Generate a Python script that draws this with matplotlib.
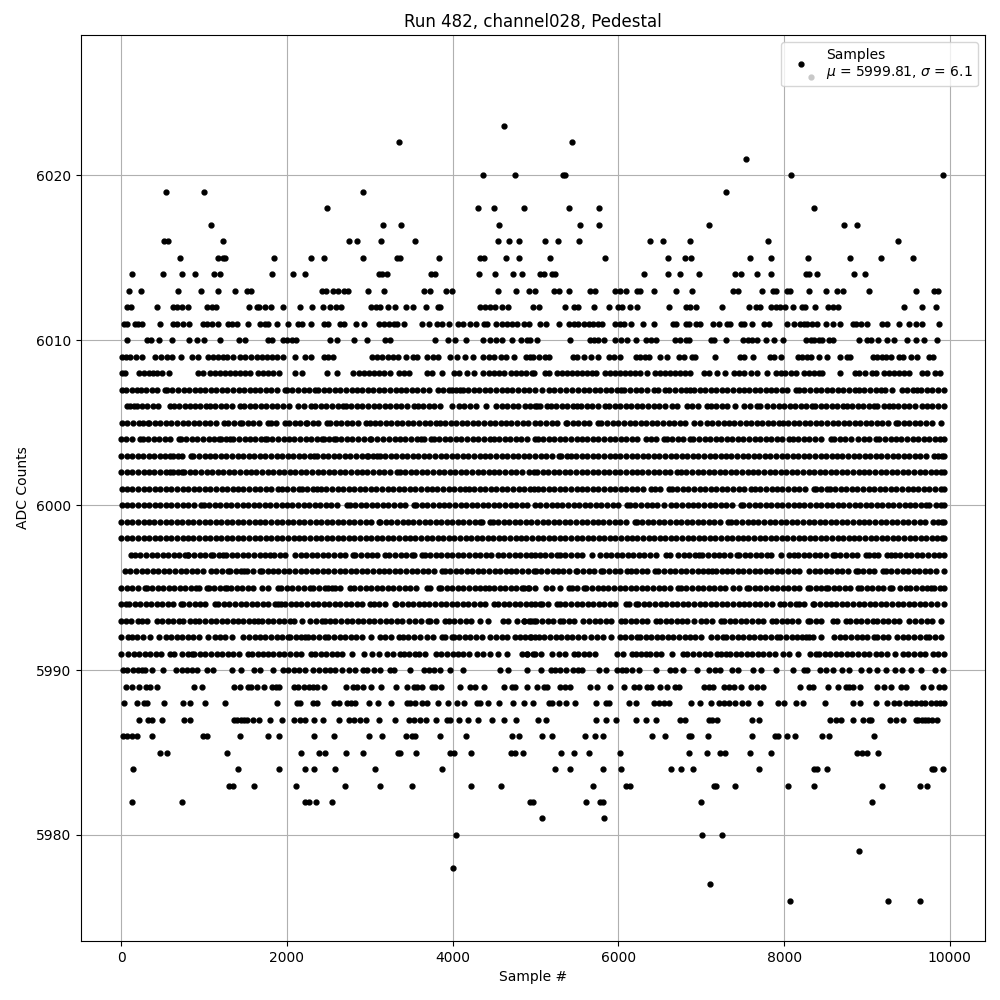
import matplotlib
matplotlib.use('Agg')
import matplotlib.pyplot as plt
from matplotlib.legend_handler import HandlerBase
from matplotlib.lines import Line2D

# Sample numbers, one list per ADC level
s6023 = [4625]
s6022 = [3347, 5436]
s6021 = [7545]
s6020 = [4362, 4749, 5335, 5350, 8082, 9918]
s6019 = [544, 1003, 2912, 7297]
s6018 = [2489, 4302, 4495, 4857, 5400, 5762, 8360]
s6017 = [1088, 3154, 3371, 4555, 5533, 5762, 7091, 8722, 8879]
s6016 = [520, 568, 1233, 2743, 2840, 3130, 3540, 4543, 4676, 4797, 5110, 5267, 5521, 6378, 6536, 6862, 7804, 9375]
s6015 = [713, 1173, 1233, 1250, 1849, 2284, 2441, 2912, 3327, 3367, 3830, 4334, 4374, 4640, 4797, 5170, 5835, 6596, 6801, 6874, 7587, 7840, 8287, 8795, 9169, 9556]
s6014 = [134, 508, 738, 895, 1124, 1197, 1825, 2067, 2212, 3105, 3146, 3206, 3742, 3790, 4314, 4507, 4724, 4833, 5058, 5098, 5199, 5239, 6306, 6596, 6741, 6970, 7405, 7474, 7671, 7840, 8259, 8300, 8396, 8843, 8976]
s6013 = [97, 242, 689, 967, 1173, 1378, 1515, 1563, 2421, 2469, 2550, 2610, 2683, 2735, 2973, 3166, 3649, 3722, 3915, 3988, 4543, 4761, 4918, 4989, 5219, 5279, 5400, 5654, 5722, 5960, 6024, 6097, 6225, 6266, 6427, 6693, 6886, 7381, 7442, 7731, 7864, 7905, 8038, 8070, 8299, 8505, 8638, 8710, 9024, 9592, 9809, 9862]
s6012 = [73, 113, 436, 629, 669, 738, 810, 1032, 1092, 1140, 1547, 1636, 1668, 1740, 1805, 1958, 2163, 2304, 2433, 2522, 2586, 2651, 3009, 3069, 3126, 3214, 3299, 3432, 3516, 3677, 3818, 3851, 4326, 4394, 4455, 4515, 4596, 4664, 4965, 5037, 5352, 5460, 5509, 5702, 5883, 5992, 6044, 6137, 6221, 6608, 6817, 6862, 6934, 7248, 7574, 7667, 7715, 7840, 7897, 7945, 8009, 8106, 8219, 8251, 8372, 8529, 8589, 8650, 9447, 9664, 9834]
s6011 = [33, 73, 166, 206, 254, 472, 621, 677, 750, 822, 991, 1032, 1092, 1165, 1293, 1334, 1402, 1535, 1676, 1736, 1777, 1885, 2018, 2139, 2183, 2296, 2441, 2493, 2642, 2683, 2828, 2932, 3106, 3166, 3226, 3287, 3327, 3407, 3629, 3710, 3810, 3871, 3951, 4060, 4124, 4213, 4282, 4374, 4414, 4523, 4596, 4656, 4716, 4777, 4857, 4917, 5058, 5126, 5287, 5400, 5460, 5509, 5581, 5642, 5694, 5750, 5803, 5964, 6024, 6072, 6153, 6302, 6427, 6660, 6701, 6817, 6858, 6942, 6991, 7140, 7212, 7305, 7353, 7474, 7514, 7615, 7756, 7816, 8034, 8118, 8191, 8239, 8279, 8340, 8400, 8505, 8589, 8674, 8827, 8867, 8931, 9004, 9185, 9246, 9387, 9507, 9588, 9669, 9874]
s6010 = [73, 307, 359, 460, 609, 822, 919, 1003, 1193, 1422, 1495, 1777, 1817, 1958, 1998, 2059, 2111, 2522, 2602, 2804, 2961, 3178, 3238, 3782, 3947, 4024, 4157, 4362, 4447, 4519, 4596, 4712, 4825, 4897, 4937, 5017, 5412, 5654, 5702, 5750, 5823, 5960, 6028, 6101, 6213, 6330, 6395, 6455, 6689, 6749, 6817, 6850, 7119, 7160, 7297, 7506, 7562, 7615, 7675, 7780, 7877, 7985, 8259, 8319, 8360, 8420, 8460, 8541, 8593, 8903, 9004, 9044, 9133, 9238, 9326, 9483, 9592, 9689, 9846]
s6009 = [9, 57, 105, 178, 246, 412, 476, 548, 609, 725, 858, 923, 1052, 1112, 1173, 1233, 1281, 1354, 1434, 1495, 1563, 1636, 1696, 1757, 1817, 1877, 1958, 2095, 2212, 2296, 2441, 2501, 2554, 3025, 3085, 3146, 3214, 3279, 3335, 3432, 3516, 3569, 3689, 3762, 3818, 3963, 4052, 4153, 4241, 4362, 4434, 4495, 4583, 4648, 4737, 4885, 4938, 4965, 5037, 5110, 5158, 5448, 5501, 5589, 5670, 5750, 5883, 5944, 6016, 6213, 6266, 6326, 6374, 6507, 6588, 6729, 6789, 6890, 6930, 7164, 7466, 7522, 7619, 7836, 7884, 7961, 8166, 8219, 8271, 8319, 8420, 8517, 8674, 8754, 8795, 9072, 9125, 9185, 9225, 9294, 9387, 9439, 9528, 9600, 9749, 9801]
s6008 = [5, 45, 218, 279, 335, 387, 428, 488, 581, 931, 991, 1072, 1132, 1193, 1253, 1313, 1374, 1434, 1495, 1555, 1656, 1716, 1777, 1837, 1906, 2099, 2179, 2481, 2602, 2791, 2864, 2924, 2985, 3045, 3106, 3166, 3246, 3347, 3407, 3468, 3689, 3750, 3871, 4020, 4072, 4173, 4253, 4366, 4434, 4495, 4555, 4616, 4704, 4769, 4825, 4889, 4957, 4985, 5118, 5158, 5259, 5319, 5380, 5440, 5501, 5561, 5621, 5682, 5734, 5843, 5903, 5964, 6024, 6084, 6145, 6205, 6266, 6346, 6447, 6507, 6568, 6628, 6689, 6749, 6809, 6870, 7031, 7091, 7188, 7285, 7393, 7454, 7522, 7595, 7675, 7796, 7897, 7957, 8017, 8078, 8138, 8239, 8299, 8360, 8420, 8460, 8674, 8855, 8903, 8976, 9064, 9105, 9205, 9266, 9326, 9387, 9447, 9507, 9661, 9721, 9822, 9882]
s6007 = [4, 62, 125, 185, 238, 300, 365, 428, 528, 552, 618, 690, 752, 820, 885, 950, 1012, 1080, 1145, 1210, 1280, 1345, 1415, 1480, 1548, 1610, 1680, 1745, 1810, 1880, 1977, 1998, 2066, 2135, 2200, 2270, 2340, 2380, 2445, 2510, 2580, 2642, 2710, 2784, 2840, 2905, 2975, 3040, 3110, 3175, 3240, 3310, 3375, 3440, 3510, 3575, 3640, 3710, 3820, 3880, 3950, 3990, 4045, 4090, 4120, 4190, 4255, 4320, 4390, 4455, 4520, 4590, 4655, 4720, 4790, 4855, 4925, 4995, 5078, 5159, 5225, 5290, 5365, 5441, 5513, 5580, 5650, 5715, 5780, 5850, 5915, 5980, 6037, 6073, 6140, 6210, 6275, 6345, 6427, 6480, 6560, 6617, 6685, 6750, 6815, 6870, 6911, 6980, 7045, 7115, 7180, 7245, 7315, 7380, 7450, 7515, 7580, 7650, 7715, 7776, 7837, 7905, 7975, 8040, 8139, 8179, 8245, 8315, 8380, 8450, 8515, 8580, 8650, 8715, 8785, 8856, 8904, 8970, 9040, 9105, 9175, 9218, 9299, 9420, 9485, 9550, 9609, 9649, 9730, 9790, 9855, 9925]
s6006 = [65, 110, 157, 186, 250, 315, 380, 447, 588, 640, 697, 770, 830, 890, 951, 1019, 1071, 1135, 1200, 1270, 1340, 1434, 1486, 1550, 1620, 1685, 1750, 1820, 1885, 1950, 2026, 2131, 2200, 2288, 2340, 2405, 2470, 2540, 2610, 2674, 2710, 2775, 2845, 2910, 2975, 3045, 3110, 3180, 3245, 3310, 3380, 3445, 3528, 3576, 3645, 3710, 3780, 3842, 3991, 4072, 4140, 4210, 4281, 4402, 4523, 4590, 4655, 4725, 4790, 4877, 4937, 4998, 5021, 5053, 5134, 5182, 5250, 5320, 5385, 5450, 5504, 5545, 5625, 5677, 5750, 5834, 5887, 5955, 6020, 6090, 6155, 6225, 6290, 6355, 6425, 6490, 6560, 6652, 6712, 6825, 6890, 6960, 7067, 7115, 7180, 7250, 7315, 7409, 7518, 7590, 7671, 7707, 7792, 7868, 7935, 8000, 8070, 8135, 8205, 8270, 8331, 8371, 8440, 8505, 8575, 8640, 8706, 8754, 8820, 8890, 8955, 9020, 9088, 9120, 9200, 9269, 9310, 9375, 9445, 9510, 9580, 9660, 9725, 9790, 9860, 9925]
s6005 = [4, 70, 145, 214, 265, 318, 339, 405, 470, 540, 605, 670, 740, 805, 875, 940, 1005, 1075, 1140, 1241, 1293, 1360, 1434, 1462, 1530, 1595, 1665, 1776, 1804, 1870, 1977, 2026, 2095, 2160, 2231, 2247, 2310, 2375, 2481, 2521, 2590, 2655, 2725, 2790, 2860, 2956, 3004, 3057, 3125, 3190, 3255, 3325, 3390, 3460, 3525, 3590, 3660, 3725, 3798, 3842, 3910, 3975, 4045, 4110, 4175, 4245, 4310, 4380, 4445, 4510, 4580, 4645, 4710, 4780, 4845, 4915, 4998, 5060, 5125, 5195, 5260, 5363, 5383, 5450, 5515, 5585, 5650, 5754, 5794, 5867, 5935, 6000, 6070, 6135, 6200, 6270, 6335, 6405, 6470, 6535, 6605, 6670, 6740, 6805, 6914, 6986, 7067, 7135, 7200, 7270, 7335, 7400, 7470, 7535, 7600, 7670, 7735, 7805, 7870, 7941, 7981, 8050, 8115, 8180, 8250, 8315, 8385, 8450, 8515, 8585, 8650, 8720, 8785, 8850, 8920, 8985, 9050, 9120, 9185, 9255, 9350, 9378, 9445, 9510, 9580, 9645, 9715, 9780, 9894]
s6004 = [0, 60, 125, 226, 258, 325, 390, 460, 525, 590, 697, 721, 785, 855, 920, 985, 1055, 1120, 1180, 1200, 1260, 1313, 1353, 1420, 1490, 1555, 1620, 1690, 1736, 1756, 1825, 1890, 1960, 2025, 2090, 2160, 2225, 2295, 2360, 2420, 2441, 2505, 2562, 2590, 2655, 2725, 2790, 2860, 2925, 3004, 3016, 3085, 3155, 3226, 3299, 3365, 3430, 3500, 3565, 3620, 3649, 3742, 3770, 3840, 3905, 3970, 4040, 4105, 4175, 4240, 4305, 4375, 4454, 4494, 4560, 4630, 4695, 4760, 4830, 4895, 4998, 5025, 5090, 5160, 5225, 5290, 5360, 5425, 5495, 5560, 5625, 5695, 5760, 5830, 5895, 5960, 6030, 6095, 6165, 6230, 6330, 6390, 6460, 6551, 6584, 6650, 6720, 6785, 6861, 6906, 6975, 7040, 7110, 7175, 7240, 7310, 7375, 7445, 7510, 7575, 7645, 7710, 7780, 7840, 7912, 7980, 8061, 8110, 8170, 8240, 8305, 8370, 8440, 8565, 8605, 8670, 8740, 8805, 8887, 8959, 9025, 9108, 9149, 9215, 9285, 9350, 9415, 9485, 9550, 9620, 9685, 9750, 9820, 9885, 9925]
s6003 = [0, 65, 130, 200, 265, 330, 400, 465, 530, 588, 620, 690, 729, 842, 870, 935, 1005, 1070, 1135, 1205, 1270, 1340, 1405, 1470, 1540, 1605, 1675, 1740, 1805, 1875, 1940, 2010, 2075, 2140, 2210, 2275, 2332, 2360, 2430, 2495, 2565, 2630, 2695, 2765, 2830, 2900, 2964, 2976, 3040, 3085, 3117, 3185, 3250, 3320, 3385, 3450, 3520, 3585, 3655, 3720, 3785, 3855, 3920, 3990, 4055, 4120, 4190, 4255, 4325, 4390, 4455, 4525, 4590, 4660, 4725, 4790, 4860, 4925, 4998, 5065, 5130, 5200, 5283, 5303, 5384, 5424, 5490, 5560, 5625, 5690, 5760, 5825, 5895, 5960, 6025, 6095, 6160, 6230, 6295, 6360, 6430, 6495, 6565, 6630, 6695, 6765, 6830, 6900, 6965, 7030, 7100, 7165, 7235, 7300, 7365, 7435, 7500, 7570, 7635, 7700, 7770, 7835, 7905, 7970, 8035, 8105, 8170, 8240, 8305, 8370, 8440, 8505, 8575, 8640, 8705, 8775, 8840, 8910, 8975, 9040, 9110, 9175, 9245, 9310, 9375, 9445, 9510, 9580, 9645, 9710, 9805, 9853, 9900, 9925]
s6002 = [0, 65, 135, 200, 270, 335, 400, 470, 535, 588, 620, 690, 729, 761, 830, 895, 960, 1030, 1095, 1165, 1230, 1295, 1365, 1430, 1500, 1565, 1630, 1700, 1765, 1835, 1900, 1965, 2035, 2100, 2170, 2235, 2300, 2370, 2435, 2505, 2570, 2635, 2705, 2770, 2840, 2905, 2970, 3040, 3105, 3175, 3240, 3327, 3367, 3427, 3495, 3560, 3630, 3695, 3765, 3830, 3895, 3965, 4030, 4100, 4165, 4230, 4300, 4365, 4435, 4500, 4565, 4635, 4700, 4770, 4835, 4917, 4977, 5020, 5085, 5155, 5220, 5285, 5355, 5420, 5490, 5555, 5620, 5690, 5755, 5825, 5890, 5955, 6025, 6090, 6160, 6225, 6290, 6360, 6425, 6495, 6560, 6625, 6712, 6753, 6820, 6890, 6955, 7020, 7090, 7155, 7225, 7290, 7355, 7425, 7490, 7560, 7625, 7690, 7760, 7825, 7895, 7960, 8025, 8095, 8160, 8230, 8295, 8360, 8430, 8495, 8565, 8630, 8695, 8765, 8830, 8900, 8965, 9030, 9100, 9165, 9235, 9300, 9365, 9435, 9500, 9570, 9635, 9700, 9770, 9835, 9890, 9925]
s6001 = [4, 70, 135, 205, 270, 340, 405, 470, 540, 605, 675, 740, 805, 875, 940, 1010, 1075, 1140, 1210, 1275, 1345, 1410, 1475, 1545, 1610, 1680, 1745, 1810, 1897, 1937, 2005, 2075, 2151, 2179, 2245, 2310, 2360, 2408, 2475, 2545, 2610, 2680, 2745, 2810, 2880, 2945, 3015, 3080, 3145, 3215, 3280, 3350, 3415, 3480, 3550, 3615, 3685, 3750, 3815, 3885, 3950, 4020, 4085, 4152, 4192, 4260, 4325, 4395, 4460, 4525, 4595, 4660, 4730, 4795, 4860, 4930, 4977, 5025, 5090, 5160, 5225, 5290, 5360, 5425, 5495, 5560, 5625, 5695, 5760, 5830, 5895, 5960, 6030, 6095, 6165, 6230, 6295, 6390, 6439, 6505, 6612, 6644, 6710, 6780, 6845, 6915, 6980, 7045, 7115, 7180, 7250, 7315, 7380, 7450, 7515, 7598, 7647, 7715, 7780, 7850, 7915, 7980, 8050, 8115, 8185, 8250, 8363, 8384, 8450, 8516, 8549, 8615, 8685, 8750, 8820, 8885, 8950, 9020, 9085, 9155, 9220, 9285, 9355, 9420, 9490, 9555, 9620, 9690, 9755, 9825, 9890, 9926]
s6000 = [4, 70, 135, 205, 270, 335, 405, 470, 540, 605, 670, 740, 805, 875, 963, 995, 1060, 1130, 1195, 1265, 1330, 1395, 1465, 1530, 1600, 1665, 1730, 1800, 1865, 1935, 2000, 2065, 2135, 2200, 2270, 2335, 2400, 2470, 2535, 2605, 2722, 2755, 2820, 2890, 2955, 3025, 3090, 3155, 3225, 3290, 3360, 3425, 3528, 3560, 3625, 3695, 3760, 3830, 3895, 3960, 4030, 4095, 4165, 4230, 4295, 4365, 4430, 4500, 4565, 4630, 4700, 4765, 4835, 4900, 4998, 5060, 5125, 5195, 5260, 5325, 5395, 5460, 5530, 5595, 5660, 5730, 5795, 5865, 5930, 5995, 6108, 6137, 6205, 6270, 6340, 6405, 6470, 6551, 6632, 6700, 6765, 6835, 6900, 6965, 7035, 7100, 7170, 7235, 7300, 7370, 7477, 7510, 7575, 7645, 7710, 7780, 7845, 7910, 7980, 8045, 8115, 8180, 8245, 8315, 8380, 8450, 8515, 8580, 8650, 8715, 8785, 8850, 8915, 8985, 9050, 9120, 9185, 9250, 9320, 9385, 9455, 9520, 9585, 9655, 9712, 9753, 9833, 9890, 9925]
s5999 = [0, 65, 135, 200, 270, 335, 400, 470, 535, 605, 670, 735, 805, 870, 940, 1005, 1070, 1140, 1205, 1275, 1340, 1405, 1475, 1540, 1610, 1675, 1740, 1810, 1875, 1945, 2010, 2075, 2145, 2210, 2280, 2345, 2410, 2480, 2545, 2615, 2680, 2745, 2815, 2880, 2950, 3015, 3105, 3125, 3190, 3260, 3325, 3395, 3460, 3525, 3595, 3660, 3730, 3795, 3860, 3930, 3995, 4065, 4130, 4195, 4265, 4333, 4353, 4454, 4482, 4550, 4615, 4680, 4750, 4815, 4885, 4950, 5020, 5085, 5150, 5220, 5285, 5355, 5420, 5485, 5555, 5620, 5690, 5755, 5820, 5890, 5955, 6025, 6090, 6197, 6221, 6285, 6355, 6420, 6490, 6555, 6620, 6690, 6755, 6825, 6890, 6955, 7025, 7090, 7160, 7225, 7325, 7357, 7425, 7490, 7560, 7625, 7690, 7760, 7825, 7895, 7960, 8025, 8095, 8160, 8230, 8295, 8360, 8430, 8495, 8565, 8630, 8695, 8765, 8830, 8900, 8965, 9030, 9100, 9165, 9235, 9300, 9365, 9435, 9500, 9570, 9635, 9700, 9793, 9853, 9900, 9925]
s5998 = [0, 70, 135, 200, 270, 335, 405, 470, 535, 605, 670, 740, 805, 870, 940, 1005, 1075, 1140, 1205, 1275, 1340, 1410, 1475, 1540, 1610, 1675, 1745, 1810, 1875, 1945, 2010, 2080, 2145, 2210, 2280, 2345, 2415, 2480, 2545, 2615, 2680, 2750, 2815, 2880, 2950, 3015, 3085, 3150, 3215, 3285, 3350, 3420, 3485, 3550, 3620, 3685, 3755, 3820, 3885, 3955, 4020, 4090, 4155, 4220, 4290, 4355, 4425, 4490, 4555, 4625, 4690, 4760, 4825, 4890, 4960, 5025, 5095, 5160, 5225, 5295, 5360, 5430, 5495, 5560, 5630, 5695, 5765, 5830, 5895, 5965, 6030, 6100, 6165, 6230, 6300, 6365, 6435, 6500, 6565, 6635, 6700, 6770, 6835, 6900, 6970, 7035, 7105, 7170, 7235, 7305, 7370, 7440, 7505, 7570, 7640, 7705, 7775, 7840, 7905, 7975, 8040, 8110, 8175, 8240, 8310, 8375, 8445, 8510, 8575, 8645, 8710, 8780, 8845, 8910, 8980, 9045, 9115, 9180, 9245, 9315, 9380, 9450, 9515, 9580, 9650, 9715, 9785, 9850, 9900, 9925]
s5997 = [113, 165, 230, 300, 365, 430, 500, 565, 635, 700, 765, 802, 810, 880, 945, 1015, 1084, 1112, 1175, 1233, 1265, 1335, 1400, 1470, 1535, 1600, 1670, 1735, 1796, 1849, 1915, 1977, 2099, 2165, 2230, 2300, 2365, 2435, 2500, 2565, 2635, 2700, 2791, 2824, 2890, 2960, 3025, 3090, 3186, 3226, 3307, 3375, 3440, 3508, 3528, 3629, 3661, 3730, 3795, 3860, 3930, 3995, 4065, 4130, 4195, 4265, 4330, 4400, 4465, 4547, 4611, 4684, 4750, 4815, 4885, 4950, 4998, 5050, 5115, 5185, 5263, 5295, 5360, 5430, 5495, 5560, 5677, 5778, 5845, 5915, 5980, 6045, 6115, 6180, 6250, 6315, 6380, 6450, 6571, 6620, 6720, 6790, 6855, 6920, 6974, 7014, 7080, 7150, 7215, 7280, 7350, 7437, 7457, 7525, 7590, 7660, 7725, 7790, 7848, 7961, 8061, 8120, 8162, 8235, 8300, 8370, 8435, 8500, 8585, 8613, 8680, 8750, 8815, 8885, 8988, 9028, 9090, 9137, 9241, 9290, 9338, 9402, 9471, 9535, 9605, 9670, 9735, 9805, 9870, 9925]
s5996 = [45, 110, 180, 245, 315, 380, 445, 515, 580, 650, 715, 780, 850, 915, 985, 1084, 1140, 1210, 1293, 1313, 1380, 1450, 1486, 1515, 1585, 1676, 1696, 1765, 1830, 1895, 1965, 2030, 2100, 2165, 2230, 2300, 2365, 2435, 2500, 2565, 2635, 2700, 2770, 2835, 2900, 2970, 3035, 3105, 3170, 3235, 3305, 3370, 3440, 3505, 3570, 3640, 3705, 3775, 3870, 3902, 3970, 4035, 4100, 4170, 4235, 4305, 4370, 4435, 4505, 4570, 4640, 4705, 4770, 4840, 4905, 4977, 5001, 5070, 5135, 5205, 5270, 5335, 5405, 5484, 5504, 5570, 5640, 5705, 5786, 5818, 5885, 5955, 6020, 6108, 6149, 6215, 6285, 6350, 6443, 6483, 6550, 6620, 6685, 6750, 6820, 6885, 6955, 7020, 7085, 7135, 7175, 7245, 7310, 7375, 7445, 7510, 7580, 7645, 7710, 7780, 7845, 7915, 7980, 8045, 8122, 8182, 8303, 8370, 8435, 8505, 8570, 8640, 8705, 8770, 8867, 8887, 8955, 9020, 9090, 9189, 9229, 9295, 9360, 9430, 9495, 9565, 9630, 9695, 9765, 9830, 9925]
s5995 = [0, 65, 135, 200, 286, 306, 375, 440, 505, 575, 640, 710, 775, 840, 898, 939, 1031, 1059, 1125, 1190, 1253, 1281, 1325, 1395, 1460, 1530, 1595, 1704, 1776, 1889, 1929, 1995, 2065, 2130, 2200, 2280, 2320, 2390, 2461, 2501, 2541, 2574, 2640, 2755, 2815, 2885, 2950, 3015, 3085, 3150, 3220, 3285, 3350, 3420, 3485, 3555, 3689, 3729, 3830, 3862, 3930, 3995, 4060, 4130, 4195, 4265, 4333, 4386, 4434, 4500, 4570, 4635, 4700, 4770, 4835, 4905, 4998, 4860, 4925, 5122, 5202, 5300, 5404, 5436, 5505, 5585, 5613, 5680, 5750, 5815, 5880, 5950, 6015, 6085, 6150, 6215, 6285, 6350, 6420, 6485, 6550, 6620, 6720, 6753, 6820, 6890, 6955, 7020, 7090, 7155, 7225, 7290, 7389, 7457, 7550, 7582, 7650, 7715, 7785, 7850, 7915, 7985, 8050, 8120, 8185, 8283, 8311, 8380, 8445, 8504, 8533, 8600, 8665, 8735, 8800, 8887, 8927, 8995, 9060, 9130, 9195, 9282, 9302, 9400, 9471, 9523, 9592, 9660, 9725, 9773, 9805, 9880, 9925]
s5994 = [0, 53, 93, 160, 225, 295, 360, 430, 495, 560, 630, 721, 749, 815, 885, 950, 1015, 1132, 1172, 1240, 1305, 1375, 1440, 1505, 1575, 1640, 1710, 1775, 1857, 1897, 1929, 1977, 2045, 2110, 2175, 2245, 2310, 2380, 2441, 2509, 2574, 2640, 2710, 2775, 2845, 2910, 3004, 3045, 3110, 3180, 3299, 3319, 3385, 3455, 3520, 3590, 3655, 3720, 3790, 3855, 3925, 3990, 4055, 4125, 4190, 4260, 4325, 4390, 4494, 4547, 4615, 4680, 4750, 4815, 4880, 4950, 4998, 5053, 5081, 5150, 5263, 5295, 5360, 5430, 5495, 5560, 5630, 5695, 5765, 5830, 5895, 5965, 6088, 6128, 6209, 6241, 6310, 6375, 6445, 6510, 6575, 6645, 6710, 6780, 6845, 6910, 6980, 7045, 7115, 7180, 7245, 7315, 7380, 7450, 7515, 7580, 7650, 7715, 7785, 7850, 7953, 8001, 8070, 8142, 8182, 8243, 8343, 8363, 8430, 8500, 8565, 8630, 8700, 8765, 8835, 8900, 8965, 9035, 9100, 9170, 9235, 9300, 9370, 9435, 9505, 9570, 9635, 9705, 9770, 9840, 9925]
s5993 = [0, 60, 117, 198, 250, 306, 427, 496, 568, 630, 695, 749, 830, 885, 943, 1011, 1080, 1145, 1210, 1280, 1345, 1414, 1474, 1547, 1600, 1656, 1696, 1765, 1830, 1900, 1965, 2038, 2090, 2179, 2280, 2350, 2420, 2453, 2520, 2585, 2655, 2720, 2790, 2855, 2920, 2990, 3055, 3125, 3190, 3255, 3325, 3390, 3476, 3548, 3620, 3701, 3729, 3800, 3910, 3951, 4020, 4085, 4155, 4220, 4333, 4422, 4603, 4670, 4776, 4857, 4920, 4977, 4860, 4941, 5010, 5075, 5145, 5210, 5295, 5331, 5400, 5465, 5577, 5645, 5715, 5780, 5850, 5915, 6028, 6080, 6150, 6215, 6285, 6350, 6451, 6503, 6570, 6635, 6705, 6770, 6833, 6914, 6994, 7060, 7130, 7236, 7276, 7345, 7410, 7475, 7545, 7610, 7680, 7745, 7860, 7900, 7970, 8035, 8100, 8170, 8283, 8315, 8380, 8450, 8585, 8637, 8746, 8798, 8865, 8930, 9000, 9068, 9120, 9190, 9255, 9325, 9390, 9511, 9580, 9652, 9720, 9785, 9894]
s5992 = [0, 77, 125, 190, 260, 347, 455, 536, 605, 670, 735, 805, 870, 940, 1043, 1132, 1190, 1253, 1341, 1474, 1540, 1610, 1675, 1740, 1810, 1875, 1945, 2010, 2038, 2110, 2175, 2219, 2251, 2320, 2385, 2461, 2501, 2570, 2635, 2700, 2770, 2835, 2905, 3016, 3117, 3185, 3250, 3347, 3399, 3465, 3530, 3600, 3689, 3757, 3870, 3902, 3991, 4011, 4080, 4145, 4215, 4280, 4354, 4454, 4525, 4590, 4655, 4756, 4809, 4875, 4945, 4998, 4932, 5040, 5105, 5174, 5243, 5310, 5380, 5445, 5510, 5585, 5665, 5738, 5818, 5915, 6020, 6085, 6155, 6221, 6261, 6330, 6395, 6465, 6530, 6595, 6665, 6730, 6800, 6865, 6930, 7000, 7115, 7188, 7268, 7304, 7370, 7440, 7505, 7575, 7640, 7705, 7775, 7840, 7920, 7949, 8021, 8090, 8155, 8222, 8263, 8303, 8355, 8444, 8605, 8670, 8740, 8805, 8875, 8940, 9005, 9080, 9120, 9190, 9255, 9362, 9431, 9500, 9565, 9635, 9712, 9753, 9820, 9894]
s5991 = [0, 85, 150, 220, 285, 350, 420, 485, 588, 641, 737, 800, 850, 882, 950, 1015, 1085, 1150, 1215, 1285, 1350, 1420, 1527, 1575, 1645, 1716, 1776, 1837, 1905, 1970, 2040, 2105, 2170, 2292, 2340, 2410, 2475, 2545, 2602, 2670, 2783, 2924, 3025, 3113, 3206, 3275, 3367, 3407, 3475, 3540, 3588, 3669, 3798, 3865, 3930, 4000, 4065, 4130, 4192, 4293, 4360, 4454, 4543, 4656, 4837, 4900, 4998, 4892, 4973, 5069, 5202, 5283, 5350, 5464, 5512, 5580, 5645, 5714, 5988, 6055, 6169, 6209, 6270, 6330, 6382, 6450, 6519, 6644, 6785, 6833, 6900, 6974, 7043, 7110, 7188, 7236, 7296, 7349, 7415, 7485, 7550, 7615, 7685, 7750, 7820, 7885, 7981, 8061, 8170, 8311, 8383, 8424, 8490, 8555, 8625, 8690, 8760, 8825, 8890, 8960, 9028, 9108, 9175, 9240, 9338, 9431, 9500, 9565, 9635, 9700, 9793, 9853, 9925]
s5990 = [17, 65, 146, 206, 246, 291, 367, 508, 661, 730, 790, 850, 919, 1032, 1112, 1334, 1446, 1607, 1680, 1837, 1958, 2018, 2079, 2147, 2220, 2312, 2381, 2461, 2522, 2582, 2662, 2743, 2824, 2912, 2965, 3045, 3118, 3246, 3287, 3480, 3649, 3710, 3770, 3842, 3967, 4120, 4567, 4664, 4901, 5062, 5186, 5239, 5299, 5372, 5448, 5509, 5561, 5762, 5847, 5984, 6044, 6097, 6165, 6246, 6451, 6620, 6680, 6777, 6946, 7091, 7164, 7232, 7373, 7442, 7627, 7723, 7897, 8106, 8239, 8271, 8432, 8505, 8589, 8702, 8783, 8924, 9024, 9117, 9225, 9338, 9427, 9528, 9648, 9822, 9922]
s5989 = [61, 134, 218, 299, 347, 428, 883, 975, 1366, 1434, 1535, 1563, 1636, 1728, 1821, 1865, 1909, 2079, 2139, 2208, 2260, 2320, 2361, 2449, 2707, 2791, 2844, 2912, 3009, 3130, 3311, 3444, 3529, 3569, 3629, 3750, 3790, 3854, 4092, 4205, 4273, 4374, 4616, 4716, 4749, 4894, 5013, 5098, 5138, 5299, 5360, 5420, 5654, 5738, 5895, 6068, 6185, 6246, 6346, 6395, 6499, 6588, 6680, 6733, 7031, 7091, 7144, 7272, 7333, 7393, 7482, 7599, 7671, 7744, 8191, 8299, 8352, 8529, 8654, 8742, 8783, 8831, 8915, 9121, 9205, 9290, 9407, 9475, 9677, 9773, 9870, 9925]
s5988 = [37, 194, 275, 307, 520, 750, 834, 1016, 1257, 1885, 2119, 2159, 2320, 2361, 2562, 2622, 2723, 2771, 2824, 2985, 3093, 3251, 3448, 3488, 3548, 3629, 3689, 3826, 3939, 4052, 4133, 4294, 4334, 4422, 4555, 4724, 4865, 4965, 5158, 5199, 5279, 5372, 5480, 5726, 5855, 5883, 6125, 6209, 6427, 6487, 6548, 6608, 6874, 6982, 7115, 7212, 7272, 7333, 7405, 7490, 7562, 7707, 7925, 7997, 8146, 8227, 8493, 8831, 8915, 9109, 9246, 9326, 9387, 9467, 9528, 9596, 9648, 9700, 9777, 9830, 9880, 9925]
s5987 = [214, 327, 367, 496, 762, 830, 1366, 1400, 1440, 1480, 1520, 1595, 1668, 1801, 1946, 2079, 2163, 2212, 2332, 2429, 2622, 2743, 2804, 2876, 2949, 3106, 3299, 3468, 3529, 3601, 3673, 3794, 3931, 3971, 4080, 4189, 4301, 4471, 4616, 4761, 5025, 5122, 5726, 5847, 5968, 6213, 6330, 6451, 6741, 6801, 7091, 7132, 7188, 7611, 7695, 8553, 8625, 8686, 8831, 8952, 9024, 9052, 9278, 9346, 9439, 9588, 9620, 9660, 9700, 9740, 9780, 9850]
s5986 = [25, 65, 134, 186, 375, 991, 1032, 1438, 1765, 1909, 2332, 2562, 2985, 3142, 3432, 3508, 3549, 3842, 4157, 4712, 4797, 5074, 5195, 5593, 5714, 5811, 6403, 6560, 6850, 6882, 7079, 7611, 7889, 7925, 8034, 8130, 8456, 8541, 9084]
s5985 = [472, 556, 1281, 2175, 2381, 2465, 2707, 2912, 3335, 3367, 3553, 3963, 4012, 4217, 4708, 4749, 4845, 5303, 5460, 5642, 6016, 6850, 7067, 7224, 7285, 7587, 7840, 8879, 8940, 9000, 9133]
s5984 = [146, 1414, 1909, 2212, 2332, 2574, 3057, 3867, 5231, 5412, 5811, 6028, 6632, 6753, 6898, 7695, 8360, 8400, 8517, 9789, 9809, 9918]
s5983 = [1305, 1354, 1607, 2103, 2695, 3118, 3504, 4217, 4579, 5690, 6089, 6137, 7152, 7184, 7405, 8046, 8360, 9181, 9640, 9725]
s5982 = [134, 738, 2212, 2260, 2356, 2538, 4930, 4965, 5605, 5782, 5811, 6995, 9060]
s5981 = [5074, 5823]
s5980 = [4036, 7007, 7248]
s5979 = [8903]
s5978 = [3999]
s5977 = [7103]
s5976 = [8070, 9254, 9640]

levels = list(range(6023, 5975, -1))
samples = [s6023, s6022, s6021, s6020, s6019, s6018, s6017, s6016, s6015, s6014, s6013, s6012,
           s6011, s6010, s6009, s6008, s6007, s6006, s6005, s6004, s6003, s6002, s6001, s6000,
           s5999, s5998, s5997, s5996, s5995, s5994, s5993, s5992, s5991, s5990, s5989, s5988,
           s5987, s5986, s5985, s5984, s5983, s5982, s5981, s5980, s5979, s5978, s5977, s5976]

x = []
y = []
for level, row in zip(levels, samples):
    x += row
    y += [level] * len(row)


# Legend entry has a black dot and a pale one next to it
class TwoDots(HandlerBase):
    def create_artists(self, legend, orig_handle, xdescent, ydescent, width, height, fontsize, trans):
        black = Line2D([width / 2], [height * 0.45 + 0.7], marker='.', color='k', ms=7, ls='none', transform=trans)
        pale = Line2D([width / 2 + 7], [height * 0.45 - 8.5], marker='.', color='#c8c8c8', ms=7, ls='none', transform=trans)
        return [black, pale]


fig, ax = plt.subplots(figsize=(10, 10), dpi=100)
line, = ax.plot(x, y, 'k.', ms=7, label='Samples\n$\\mu$ = 5999.81, $\\sigma$ = 6.1')
ax.set_xlim(-486, 10425)
ax.set_ylim(5973.57, 6028.52)
ax.set_title('Run 482, channel028, Pedestal')
ax.set_xlabel('Sample #')
ax.set_ylabel('ADC Counts')
ax.grid(True)
ax.legend(handles=[line], handler_map={line: TwoDots()}, loc='upper right')
fig.subplots_adjust(left=0.081, right=0.985, top=0.965, bottom=0.059)
plt.savefig('out.png', dpi=100)
